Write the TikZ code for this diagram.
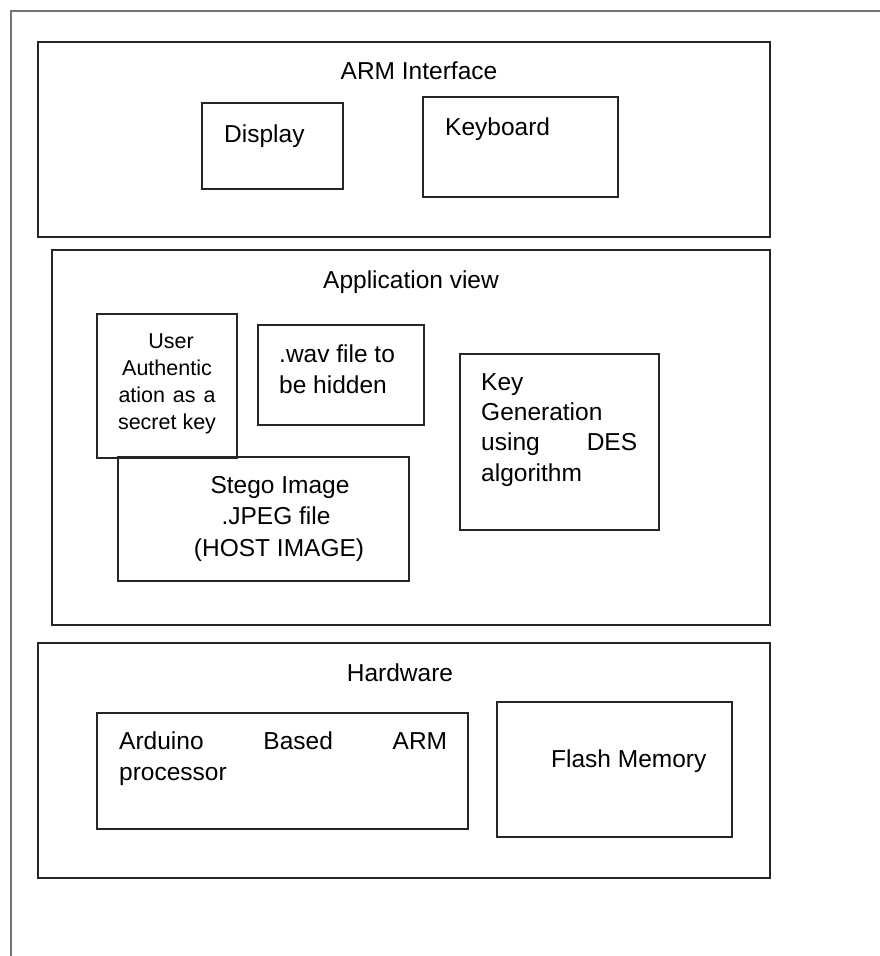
\documentclass[tikz,border=0pt]{standalone}
\usepackage{fontspec}
\setmainfont{Liberation Sans}
\begin{document}
\begin{tikzpicture}[x=1pt,y=-1pt,
  box/.style={draw=black!85,line width=1.6pt,inner sep=0pt,outer sep=0pt,anchor=north west},
  frame/.style={draw=black!55,line width=2.6pt},
  txt/.style={inner sep=0pt,font=\fontsize{24.5}{30}\selectfont},
  small/.style={inner sep=0pt,font=\fontsize{21.5}{27}\selectfont}]
\useasboundingbox (0,0) rectangle (880,956);
\draw[frame] (11,956) -- (11,11) -- (880,11);
% boxes
\node[box,minimum width=732,minimum height=195] (arm) at (38,42) {};
\node[box,minimum width=141,minimum height=86] (disp) at (202,103) {};
\node[box,minimum width=195,minimum height=100] (kbd) at (423,97) {};
\node[box,minimum width=718,minimum height=375] (app) at (52,250) {};
\node[box,minimum width=140,minimum height=144] (auth) at (97,314) {};
\node[box,minimum width=166,minimum height=100] (wav) at (258,325) {};
\node[box,minimum width=199,minimum height=176] (keyg) at (460,354) {};
\node[box,minimum width=291,minimum height=124] (stego) at (118,457) {};
\node[box,minimum width=732,minimum height=235] (hw) at (38,643) {};
\node[box,minimum width=371,minimum height=116] (ard) at (97,713) {};
\node[box,minimum width=235,minimum height=135] (flash) at (497,702) {};
% texts
\node[txt,anchor=base] (tarm) at (419,79) {ARM Interface};
\node[txt,anchor=base west] (tdisp) at (224,142) {Display};
\node[txt,anchor=base west] (tkbd) at (445,135) {Keyboard};
\node[txt,anchor=base] (tapp) at (411,288) {Application view};
\node[small,anchor=base] (ta1) at (171,348) {User};
\node[small,anchor=base] (ta2) at (167,375) {Authentic};
\node[small,anchor=base] (ta3) at (167,402) {\hbox to 97pt{ation\hfill as\hfill a}};
\node[small,anchor=base] (ta4) at (167,429) {secret key};
\node[txt,anchor=base west] (tw1) at (279,362) {.wav file to};
\node[txt,anchor=base west] (tw2) at (279,393) {be hidden};
\node[txt,anchor=base west] (tk1) at (481,390) {Key};
\node[txt,anchor=base west] (tk2) at (481,420) {Generation};
\node[txt,anchor=base west] (tk3) at (481,450) {\hbox to 156pt{using\hfill DES}};
\node[txt,anchor=base west] (tk4) at (481,481) {algorithm};
\node[txt,anchor=base] (ts1) at (280,493) {Stego Image};
\node[txt,anchor=base] (ts2) at (276,524) {.JPEG file};
\node[txt,anchor=base] (ts3) at (279,556) {(HOST IMAGE)};
\node[txt,anchor=base] (thw) at (400,681) {Hardware};
\node[txt,anchor=base west] (tr1) at (119,749) {\hbox to 328pt{Arduino\hfill Based\hfill ARM}};
\node[txt,anchor=base west] (tr2) at (119,780) {processor};
\node[txt,anchor=base west] (tf) at (551,767) {Flash Memory};
\end{tikzpicture}
\end{document}
